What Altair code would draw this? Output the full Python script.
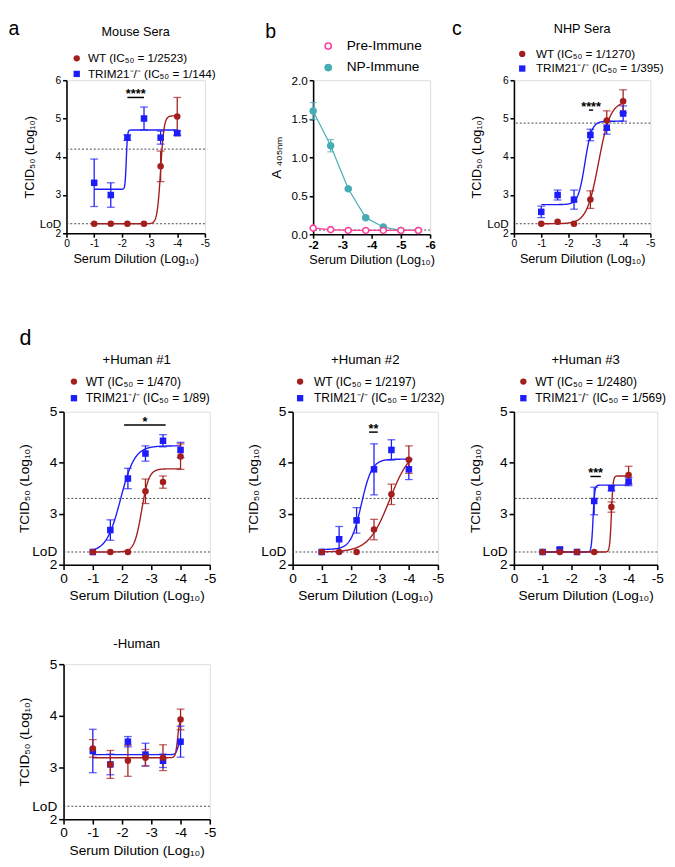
import altair as alt
import numpy as np
import pandas as pd

FONT = "Liberation Sans"
RED = "#a51e1e"
BLUE = "#1d1dfa"
TEAL = "#46adb3"
PINK = "#ff3d9a"
LOD = 2.25
KO = "TRIM21⁻/⁻"
X_TITLE = "Serum Dilution (Log₁₀)"
Y_TITLE = "TCID₅₀ (Log₁₀)"

DIL = [-1.0, -1.6, -2.2, -2.8, -3.4, -4.0]
FIT_RANGE = [-1.0, -4.0]
X_TICKS = [0, -1, -2, -3, -4, -5]

# ---- a: mouse sera
A_TITLE = "Mouse Sera"
A_LABELS = ["WT (IC₅₀ = 1/2523)", KO + " (IC₅₀ = 1/144)"]
A_WT = [2.25, 2.25, 2.25, 2.25, 3.75, 5.05]
A_WT_SD = [0, 0, 0, 0, 0.4, 0.5]
A_KO = [3.32, 3.0, 4.5, 5.0, 4.5, 4.62]
A_KO_SD = [0.62, 0.32, 0.07, 0.3, 0.17, 0.05]
A_FIT_WT = [2.25, 5.07, -3.40, 7.0]    # bottom, top, logIC50, hill
A_FIT_KO = [3.15, 4.70, -2.16, 20.0]
A_REF = 4.2
A_SIG = [-2.2, -2.8, 5.55, "****"]

# ---- b: ELISA
B_DIL = [-2.0, -2.6, -3.2, -3.8, -4.4, -5.0, -5.6]
B_LABELS = ["Pre-Immune", "NP-Immune"]
B_PRE = [0.08, 0.06, 0.05, 0.05, 0.05, 0.05, 0.05]
B_PRE_SD = [0, 0, 0, 0, 0, 0, 0]
B_NP = [1.6, 1.15, 0.59, 0.215, 0.095, 0.05, 0.05]
B_NP_SD = [0.11, 0.08, 0.02, 0.02, 0.01, 0, 0]
B_REF = 0.055
B_TICKS = [-2, -3, -4, -5, -6]

# ---- c: NHP sera
C_TITLE = "NHP Sera"
C_LABELS = ["WT (IC₅₀ = 1/1270)", KO + " (IC₅₀ = 1/395)"]
C_WT = [2.25, 2.3, 2.25, 2.88, 4.95, 5.45]
C_WT_SD = [0, 0, 0, 0.23, 0.25, 0.3]
C_KO = [2.56, 3.0, 2.88, 4.57, 4.76, 5.13]
C_KO_SD = [0.15, 0.13, 0.25, 0.15, 0.17, 0.2]
C_FIT_WT = [2.25, 5.45, -3.10, 2.0]
C_FIT_KO = [2.75, 4.93, -2.60, 3.5]
C_REF = 4.88
C_SIG = [-2.75, -2.9, 5.22, "****"]

# ---- d: human sera
D1_TITLE = "+Human #1"
D1_LABELS = ["WT (IC₅₀ = 1/470)", KO + " (IC₅₀ = 1/89)"]
D1_WT = [2.25, 2.25, 2.25, 3.44, 3.62, 4.12]
D1_WT_SD = [0, 0, 0, 0.24, 0.12, 0.25]
D1_KO = [2.25, 2.68, 3.69, 4.18, 4.43, 4.25]
D1_KO_SD = [0, 0.2, 0.2, 0.15, 0.12, 0.15]
D1_FIT_WT = [2.25, 3.88, -2.67, 3.5]
D1_FIT_KO = [2.25, 4.33, -1.95, 1.8]
D1_SIG = [-2.07, -3.49, 4.74, "*"]

D2_TITLE = "+Human #2"
D2_LABELS = ["WT (IC₅₀ = 1/2197)", KO + " (IC₅₀ = 1/232)"]
D2_WT = [2.25, 2.25, 2.25, 2.69, 3.38, 4.06]
D2_WT_SD = [0, 0, 0, 0.2, 0.2, 0.27]
D2_KO = [2.25, 2.5, 2.87, 3.87, 4.25, 3.87]
D2_KO_SD = [0, 0.25, 0.25, 0.5, 0.2, 0.2]
D2_FIT_WT = [2.25, 4.30, -3.34, 1.2]
D2_FIT_KO = [2.30, 4.07, -2.365, 2.4]
D2_SIG = [-2.63, -2.93, 4.6, "**"]

D3_TITLE = "+Human #3"
D3_LABELS = ["WT (IC₅₀ = 1/2480)", KO + " (IC₅₀ = 1/569)"]
D3_WT = [2.25, 2.25, 2.25, 2.25, 3.13, 3.76]
D3_WT_SD = [0, 0, 0, 0, 0.1, 0.17]
D3_KO = [2.25, 2.3, 2.25, 3.25, 3.5, 3.63]
D3_KO_SD = [0, 0.03, 0, 0.27, 0.05, 0.08]
D3_FIT_WT = [2.25, 3.74, -3.40, 15.0]
D3_FIT_KO = [2.25, 3.56, -2.76, 15.0]
D3_SIG = [-2.67, -3.03, 3.73, "***"]
D_REF = 3.3

D4_TITLE = "-Human"
D4_LABELS = ["WT", KO]
D4_WT = [3.37, 3.06, 3.13, 3.19, 3.19, 3.93]
D4_WT_SD = [0.17, 0.27, 0.3, 0.16, 0.25, 0.2]
D4_KO = [3.32, 3.06, 3.5, 3.25, 3.13, 3.5]
D4_KO_SD = [0.42, 0.2, 0.1, 0.22, 0.13, 0.3]
D4_FIT_WT = [3.19, 3.95, -3.90, 12.0]
D4_FIT_KO = [3.25, 3.50, -3.90, 12.0]

TOP = dict(tick=10.5, lod=12, axt=13, ttl=13, leg=12, tsize=4, lpad=2, xtp=3, ytp=3, toff=14)
LOW = dict(tick=14, lod=14, axt=14, ttl=13.5, leg=12.3, tsize=5, lpad=2, xtp=4, ytp=0, toff=9.5)

COMMON_AXIS = dict(grid=False, domainWidth=1.6, tickWidth=1.6, domainColor="black",
                   labelColor="black", titleColor="black", labelFont=FONT, titleFont=FONT,
                   titleFontWeight="normal", labelFlush=False, labelOverlap=False)


def x_axis(st):
    return alt.Axis(values=X_TICKS, labelExpr="datum.value == 0 ? '0' : '-' + abs(datum.value)",
                    title=X_TITLE, labelFontSize=st["tick"], titleFontSize=st["axt"],
                    tickSize=st["tsize"], labelPadding=st["lpad"], titlePadding=st["xtp"],
                    tickColor="black", **COMMON_AXIS)


def y_axis(ymax, st):
    vals = [2, LOD] + list(range(3, ymax + 1))
    cond = "datum.value == 2.25"
    return alt.Axis(values=vals, labelExpr=cond + " ? 'LoD' : '' + datum.value", title=Y_TITLE,
                    labelFontSize={"condition": {"test": cond, "value": st["lod"]}, "value": st["tick"]},
                    tickColor={"condition": {"test": cond, "value": "transparent"}, "value": "black"},
                    titleFontSize=st["axt"], tickSize=st["tsize"], labelPadding=st["lpad"],
                    titlePadding=st["ytp"], **COMMON_AXIS)


def pt_frame(xs, means, sds, label):
    return pd.DataFrame({"x": xs, "y": means, "sd": sds, "series": label,
                         "lo": [m - s for m, s in zip(means, sds)],
                         "hi": [m + s for m, s in zip(means, sds)]})


def fit_frame(p, label):
    bottom, top, logic50, hill = p
    xs = np.linspace(FIT_RANGE[0], FIT_RANGE[1], 301)
    ys = bottom + (top - bottom) / (1.0 + 10.0 ** ((xs - logic50) * hill))
    return pd.DataFrame({"x": xs, "y": ys, "series": label})


def tcid_panel(title, labels, wt, wt_sd, ko, ko_sd, fit_wt, fit_ko, ref, sig, ymax,
               w, h, st, legend, toff=None):
    cs = alt.Scale(domain=labels, range=[RED, BLUE])
    ss = alt.Scale(domain=labels, range=["circle", "square"])
    xs = alt.Scale(domain=[0, -5], nice=False, zero=False)
    ys = alt.Scale(domain=[2, ymax], nice=False, zero=False)
    ax, ay = x_axis(st), y_axis(ymax, st)

    pts = pd.concat([pt_frame(DIL, ko, ko_sd, labels[1]), pt_frame(DIL, wt, wt_sd, labels[0])])
    err = pts[pts.sd > 0]
    fit = pd.concat([fit_frame(fit_ko, labels[1]), fit_frame(fit_wt, labels[0])])
    refs = pd.DataFrame({"y": [LOD] + ([ref] if ref is not None else [])})

    if legend is not None:
        lx, ly, lo, rp = legend
        leg = alt.Legend(orient="none", legendX=lx, legendY=ly, title=None, labelFont=FONT,
                         labelFontSize=st["leg"], labelColor="black", symbolSize=42,
                         labelOffset=lo, rowPadding=rp, padding=0, labelLimit=400,
                         symbolStrokeWidth=0)
    else:
        leg = None

    X = alt.X("x:Q", scale=xs, axis=ax)
    Y = alt.Y("y:Q", scale=ys, axis=ay)
    C = alt.Color("series:N", scale=cs)

    layers = [
        # legend carrier (zero-size points, first so its legend settings win)
        alt.Chart(pts).mark_point(filled=True, opacity=1, size=0)
        .encode(x=X, y=Y, color=alt.Color("series:N", scale=cs, legend=leg),
                shape=alt.Shape("series:N", scale=ss, legend=leg)),
        alt.Chart(refs).mark_rule(color="#444", strokeWidth=1, strokeDash=[2, 2]).encode(y=Y),
        alt.Chart(fit).mark_line(strokeWidth=1.4).encode(x=X, y=Y, color=C),
        alt.Chart(err).mark_rule(strokeWidth=1.3)
        .encode(x=X, y=alt.Y("lo:Q", scale=ys, axis=ay), y2="hi:Q", color=C),
        alt.Chart(err).mark_tick(orient="horizontal", size=8, thickness=1.3)
        .encode(x=X, y=alt.Y("lo:Q", scale=ys, axis=ay), color=C),
        alt.Chart(err).mark_tick(orient="horizontal", size=8, thickness=1.3)
        .encode(x=X, y=alt.Y("hi:Q", scale=ys, axis=ay), color=C),
        alt.Chart(pts).mark_point(filled=True, opacity=1, size=45)
        .encode(x=X, y=Y, color=C, shape=alt.Shape("series:N", scale=ss)),
    ]
    if sig is not None:
        sdf = pd.DataFrame({"x1": [sig[0]], "x2": [sig[1]], "y": [sig[2]],
                            "xm": [(sig[0] + sig[1]) / 2], "t": [sig[3]]})
        layers.append(alt.Chart(sdf).mark_rule(color="black", strokeWidth=1.5)
                      .encode(x=alt.X("x1:Q", scale=xs, axis=ax), x2="x2:Q", y=Y))
        layers.append(alt.Chart(sdf).mark_text(font=FONT, fontSize=13, fontWeight="bold",
                                               baseline="alphabetic", dy=1, color="black")
                      .encode(x=alt.X("xm:Q", scale=xs, axis=ax), y=Y, text="t:N"))
    return alt.layer(*layers).properties(
        width=w, height=h,
        title=alt.Title(title, font=FONT, fontSize=st["ttl"], fontWeight="normal",
                        color="black", anchor="middle", frame="group",
                        offset=st["toff"] if toff is None else toff))


def elisa_panel():
    ss = alt.Scale(domain=B_LABELS, range=[PINK, TEAL])
    fs = alt.Scale(domain=B_LABELS, range=["white", TEAL])
    xs = alt.Scale(domain=[-2, -6], nice=False, zero=False)
    ys = alt.Scale(domain=[0, 2], nice=False, zero=False)
    ax = alt.Axis(values=B_TICKS, labelExpr="'-' + abs(datum.value)", title=X_TITLE,
                  labelFontSize=12, labelFontWeight="bold", titleFontSize=13, tickSize=4,
                  labelPadding=2, titlePadding=3, tickColor="black", **COMMON_AXIS)
    ay = alt.Axis(values=[0, 0.5, 1, 1.5, 2], format=".1f", title="A ₄₀₅ₙₘ",
                  labelFontSize=12, titleFontSize=14, tickSize=4, labelPadding=2,
                  titlePadding=8, tickColor="black", **COMMON_AXIS)
    pts = pd.concat([pt_frame(B_DIL, B_NP, B_NP_SD, B_LABELS[1]),
                     pt_frame(B_DIL, B_PRE, B_PRE_SD, B_LABELS[0])])
    err = pts[pts.sd > 0]
    leg = alt.Legend(orient="none", legendX=8.5, legendY=-42, title=None, labelFont=FONT,
                     labelFontSize=14, labelColor="black", symbolSize=40, labelOffset=12,
                     rowPadding=8, padding=0, symbolStrokeWidth=1.6)
    X = alt.X("x:Q", scale=xs, axis=ax)
    Y = alt.Y("y:Q", scale=ys, axis=ay)
    S = alt.Stroke("series:N", scale=ss)
    Cn = alt.Color("series:N", scale=ss, legend=None)
    layers = [
        alt.Chart(pts).mark_point(filled=True, opacity=1, size=0, strokeWidth=1.6)
        .encode(x=X, y=Y, stroke=alt.Stroke("series:N", scale=ss, legend=leg),
                fill=alt.Fill("series:N", scale=fs, legend=leg)),
        alt.Chart(pd.DataFrame({"y": [B_REF]})).mark_rule(color="#444", strokeWidth=1,
                                                          strokeDash=[2, 2]).encode(y=Y),
        alt.Chart(pts).mark_line(strokeWidth=1.2).encode(x=X, y=Y, stroke=S),
        alt.Chart(err).mark_rule(strokeWidth=1.2)
        .encode(x=X, y=alt.Y("lo:Q", scale=ys, axis=ay), y2="hi:Q", stroke=S),
        alt.Chart(err).mark_tick(orient="horizontal", size=7, thickness=1.2)
        .encode(x=X, y=alt.Y("lo:Q", scale=ys, axis=ay), color=Cn),
        alt.Chart(err).mark_tick(orient="horizontal", size=7, thickness=1.2)
        .encode(x=X, y=alt.Y("hi:Q", scale=ys, axis=ay), color=Cn),
        alt.Chart(pts).mark_point(filled=True, opacity=1, size=38, strokeWidth=1.6)
        .encode(x=X, y=Y, stroke=S, fill=alt.Fill("series:N", scale=fs)),
    ]
    return alt.layer(*layers).properties(width=120, height=158)


RES = dict(color="independent", shape="independent", fill="independent", stroke="independent")


def lettered(ch, letter, dx, offset, size=20):
    return alt.hconcat(ch, title=alt.Title(letter, anchor="start", dx=dx, offset=offset,
                                           fontSize=size, font=FONT, fontWeight="normal",
                                           color="black")).resolve_scale(**RES)


pa = tcid_panel(A_TITLE, A_LABELS, A_WT, A_WT_SD, A_KO, A_KO_SD, A_FIT_WT, A_FIT_KO,
                A_REF, A_SIG, 6, 142, 157, TOP, (4.5, -28.5, 5.5, 4))
pb = elisa_panel()
pc = tcid_panel(C_TITLE, C_LABELS, C_WT, C_WT_SD, C_KO, C_KO_SD, C_FIT_WT, C_FIT_KO,
                C_REF, C_SIG, 6, 140, 157, TOP, (2.5, -33, 8, 3), toff=12)
pd1 = tcid_panel(D1_TITLE, D1_LABELS, D1_WT, D1_WT_SD, D1_KO, D1_KO_SD, D1_FIT_WT, D1_FIT_KO,
                 D_REF, D1_SIG, 5, 150, 157, LOW, (4.5, -37, 6, 4))
pd2 = tcid_panel(D2_TITLE, D2_LABELS, D2_WT, D2_WT_SD, D2_KO, D2_KO_SD, D2_FIT_WT, D2_FIT_KO,
                 D_REF, D2_SIG, 5, 149, 157, LOW, (1.5, -37, 8, 4))
pd3 = tcid_panel(D3_TITLE, D3_LABELS, D3_WT, D3_WT_SD, D3_KO, D3_KO_SD, D3_FIT_WT, D3_FIT_KO,
                 D_REF, D3_SIG, 5, 147, 157, LOW, (3.5, -37, 6, 4))
pd4 = tcid_panel(D4_TITLE, D4_LABELS, D4_WT, D4_WT_SD, D4_KO, D4_KO_SD, D4_FIT_WT, D4_FIT_KO,
                 None, None, 5, 150, 159, LOW, None, toff=7)

row1 = alt.hconcat(lettered(pa, "a", -15, -14, 20),
                   alt.hconcat(lettered(pb, "b", -4, -3, 20),
                               lettered(pc, "c", -19, -16, 20),
                               spacing=16).resolve_scale(**RES),
                   spacing=49).resolve_scale(**RES)
row2 = alt.hconcat(lettered(pd1, "d", 2, 3, 22),
                   alt.hconcat(pd2, pd3, spacing=22).resolve_scale(**RES),
                   spacing=30).resolve_scale(**RES)
lower = alt.vconcat(row2, pd4, spacing=34).resolve_scale(**RES)

chart = (alt.vconcat(row1, lower, spacing=61, center=True).resolve_scale(**RES)
         .properties(padding=0)
         .configure_view(stroke=None)
         .configure(font=FONT))

chart.save("out.html", embed_options={"renderer": "svg", "actions": False})
